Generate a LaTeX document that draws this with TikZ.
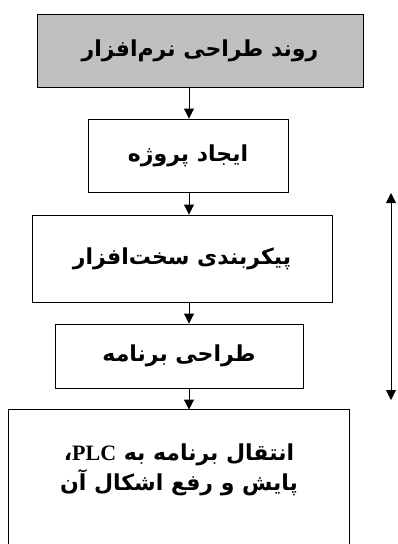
\documentclass[tikz,border=0pt]{standalone}
\usepackage{fontspec}
\usetikzlibrary{arrows.meta}
\TeXXeTstate=1
\newfontfamily\arabicfont[Script=Arabic]{DejaVu Sans}
\newfontfamily\latinserif{Liberation Serif}
\definecolor{headgray}{HTML}{C0C0C0}
\tikzset{
  stepbox/.style={draw=black, line width=0.9pt, fill=white, inner sep=0pt,
    font=\arabicfont\bfseries\fontsize{22}{30}\selectfont, align=center},
  flowarrow/.style={draw=black, line width=0.9pt, -{Triangle[width=10pt,length=10pt]}},
  sidearrow/.style={draw=black, line width=0.9pt, {Triangle[width=10pt,length=10pt]}-{Triangle[width=10pt,length=10pt]}}
}
\begin{document}
\begin{tikzpicture}[x=1pt,y=-1pt]
\useasboundingbox (0,0) rectangle (398,544);
\clip (0,0) rectangle (398,544);
\fill[white] (0,0) rectangle (398,544);
\coordinate (col) at (189,0);
\node[stepbox, fill=headgray, minimum width=326pt, minimum height=73pt] (a) at (200,50.5) {\beginR روند طراحی نرم‌افزار\endR};
\node[stepbox, minimum width=200pt, minimum height=73pt] (b) at (188,155.5) {\beginR ایجاد پروژه\endR};
\node[stepbox, minimum width=300pt, minimum height=87pt] (c) at (182,258.5) {\beginR پیکربندی سخت‌افزار\endR};
\node[stepbox, minimum width=248pt, minimum height=64pt] (d) at (179,356) {\beginR طراحی برنامه\endR};
\node[stepbox, draw=none, fill=none, minimum width=340pt, minimum height=120pt] (e) at (179,470)
  {\beginR انتقال برنامه به \beginL{\latinserif\bfseries PLC}\endL{}،\endR\\ \beginR پایش و رفع اشکال آن\endR};
\draw[black, line width=0.9pt] ([yshift=-200pt]e.north west) -- (e.north west) -- (e.north east) -- ([yshift=-200pt]e.north east);
\draw[flowarrow] (a.south -| col) -- (b.north -| col);
\draw[flowarrow] (b.south -| col) -- (c.north -| col);
\draw[flowarrow] (c.south -| col) -- (d.north -| col);
\draw[flowarrow] (d.south -| col) -- (e.north -| col);
\coordinate (up) at (391,193);
\coordinate (down) at (391,400);
\draw[sidearrow] (up) -- (down);
\end{tikzpicture}
\end{document}
